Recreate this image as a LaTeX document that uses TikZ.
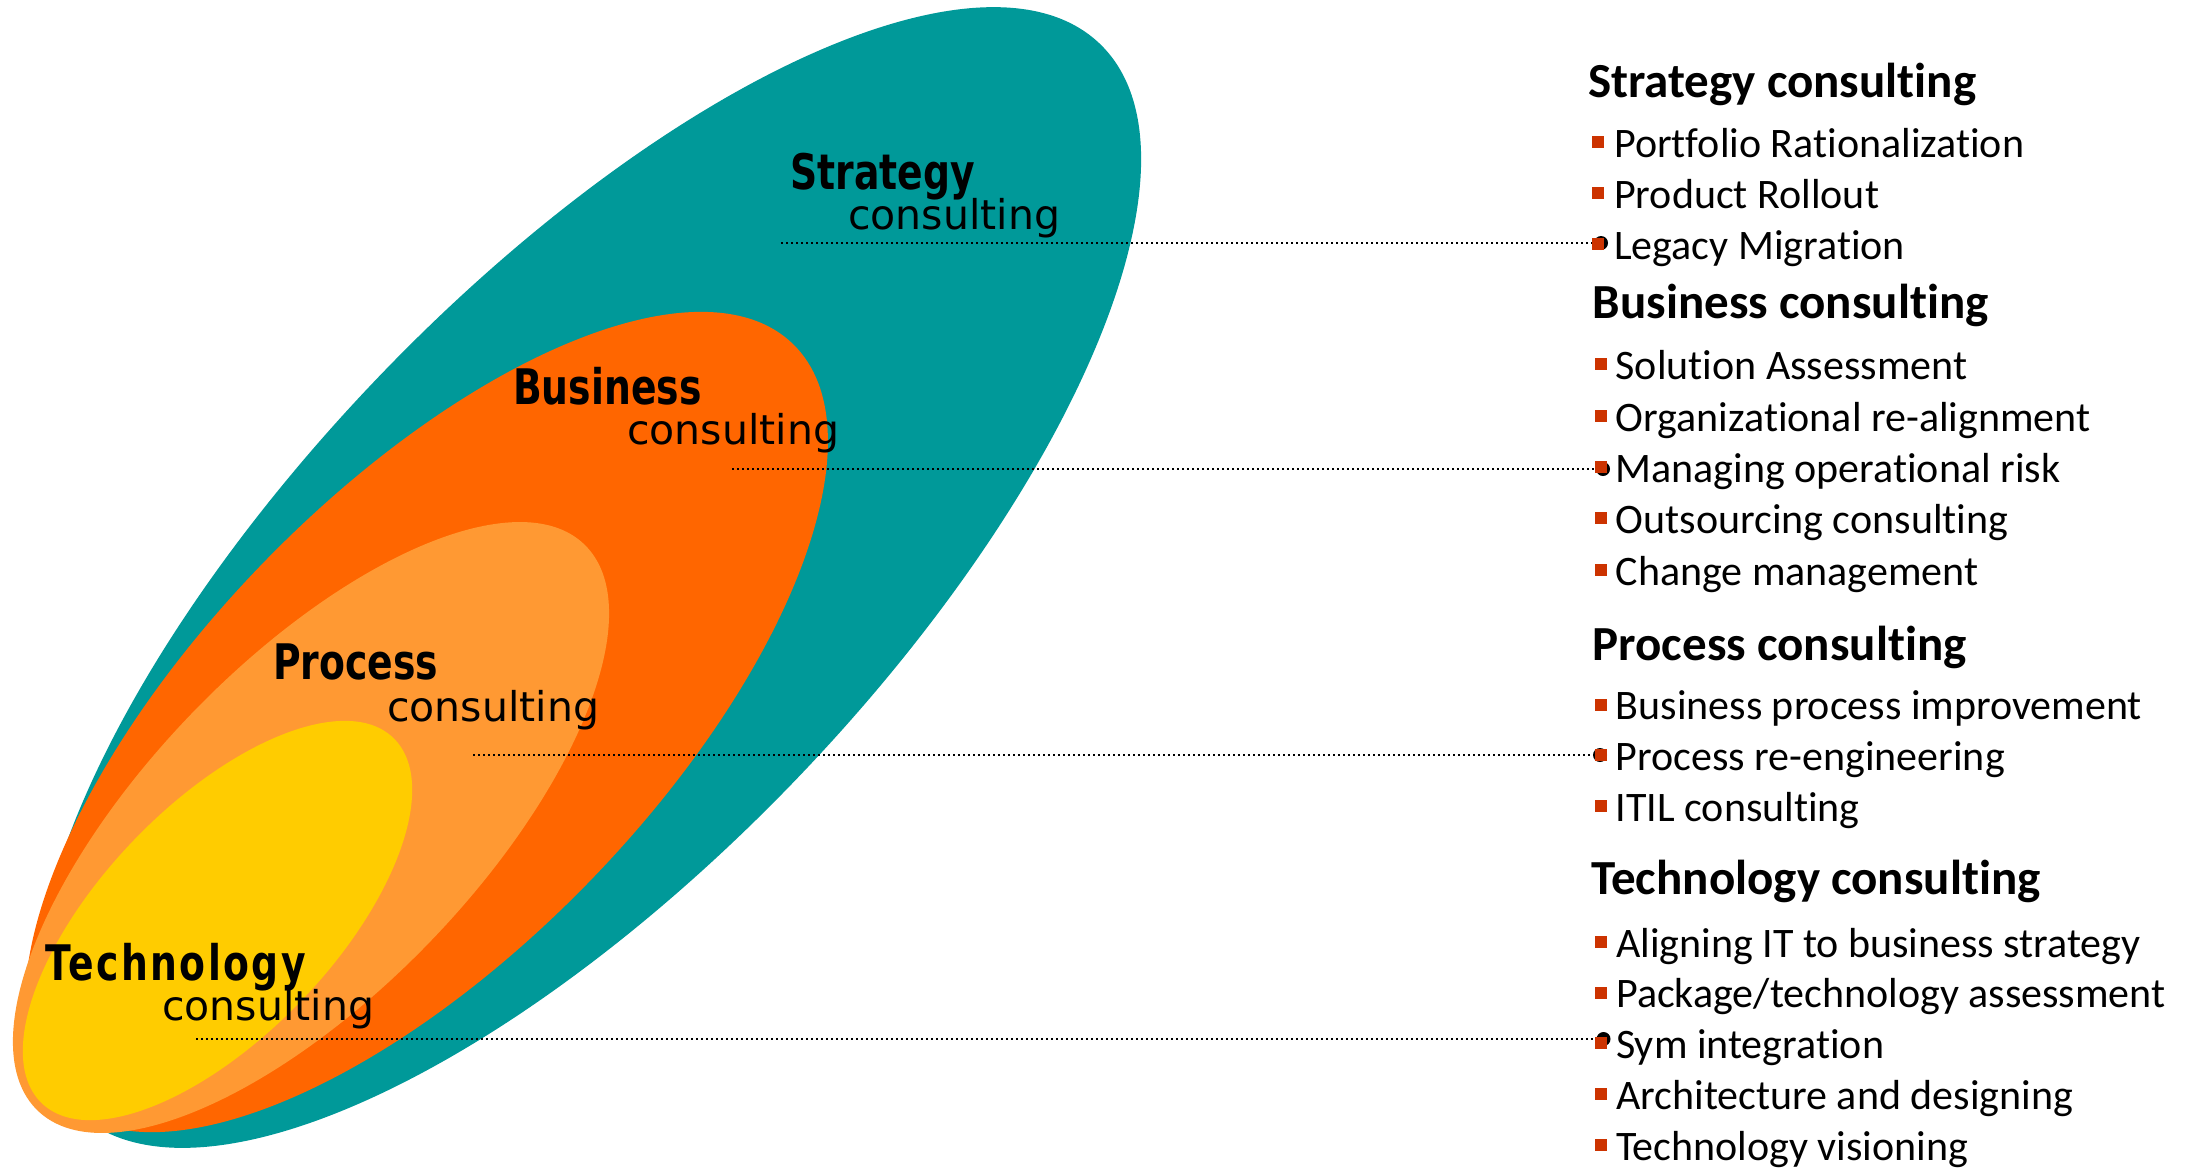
\documentclass[tikz,border=0pt]{standalone}
\usepackage{fontspec}
\usetikzlibrary{shapes.geometric}
\newfontfamily\rtfont{Carlito}[Ligatures=NoCommon]
\newfontfamily\lblfont{DejaVu Sans}
\newfontfamily\lblbold{DejaVu Sans}[FakeStretch=0.77]
\definecolor{cTeal}{HTML}{009999}
\definecolor{cDark}{HTML}{FF6600}
\definecolor{cLight}{HTML}{FF9933}
\definecolor{cYellow}{HTML}{FFCC00}
\definecolor{cBullet}{HTML}{CC3300}
\newcommand{\myitem}[5]{%
  \node[bul] (#1b) at (#2,#4-15) {};
  \node[itemT] (#1) at (#3,#4) {#5};}
\begin{document}
\begin{tikzpicture}[x=1pt,y=-1pt,
  layer/.style={ellipse, inner sep=0pt, outer sep=0pt, draw=none},
  lblB/.style={anchor=base west, inner sep=0pt, font=\lblbold\bfseries\fontsize{49}{49}\selectfont},
  lblR/.style={anchor=base west, inner sep=0pt, font=\lblfont\fontsize{41}{41}\selectfont},
  headT/.style={anchor=base west, inner sep=0pt, font=\rtfont\bfseries\fontsize{49}{49}\selectfont},
  itemT/.style={anchor=base west, inner sep=0pt, font=\rtfont\fontsize{42}{42}\selectfont},
  bul/.style={rectangle, fill=cBullet, minimum size=12pt, inner sep=0pt, outer sep=0pt},
  enddot/.style={circle, fill=black, minimum size=14pt, inner sep=0pt, outer sep=0pt},
  dotline/.style={line width=2.4pt, dash pattern=on 2.4pt off 2.6pt}
]
\useasboundingbox (0,0) rectangle (2198,1168);
\fill[white] (0,0) rectangle (2198,1168);

% nested layers
\node[layer, fill=cTeal, minimum width=1479pt, minimum height=580pt, rotate=46.2] (strat) at (588,577.5) {};
\node[layer, fill=cDark, minimum width=1053pt, minimum height=456pt, rotate=45.9] (busi) at (426.5,722) {};
\node[layer, fill=cLight, minimum width=787pt, minimum height=330pt, rotate=46] (proc) at (311,827.5) {};
\node[layer, fill=cYellow, minimum width=507pt, minimum height=232pt, rotate=46.1] (tech) at (217.5,920.5) {};

% labels in the layers
\node[lblB] (sB) at (790,189) {Strategy};
\node[lblR] (sC) at (848,229) {consulting};
\node[lblB] (bB) at (513,404) {Business};
\node[lblR] (bC) at (627,444) {consulting};
\node[lblB] (pB) at (273,679) {Process};
\node[lblR] (pC) at (387,721) {consulting};
\node[lblB] (tB) at (45,980) {\addfontfeature{LetterSpace=5}Technology};
\node[lblR] (tC) at (162,1020) {consulting};

% leader lines
\coordinate (sL) at (781,243);
\coordinate (bL) at (732,469);
\coordinate (pL) at (473,755);
\coordinate (tL) at (196,1039);
\node[enddot] (sD) at (1601,243) {};
\node[enddot] (bD) at (1603,469) {};
\node[enddot] (pD) at (1600,755) {};
\node[enddot] (tD) at (1603.5,1039) {};
\draw[dotline] (sL) -- (sD);
\draw[dotline] (bL) -- (bD);
\draw[dotline] (pL) -- (pD);
\draw[dotline] (tL) -- (tD);

% right-hand lists
\node[headT] (hS) at (1588,97) {Strategy consulting};
\myitem{s1}{1597.5}{1614}{157}{Portfolio Rationalization}
\myitem{s2}{1597.5}{1614}{208}{Product Rollout}
\myitem{s3}{1597.5}{1614}{259}{Legacy Migration}

\node[headT] (hB) at (1592.5,318.6) {Business consulting};
\myitem{b1}{1600.5}{1615.5}{379}{Solution Assessment}
\myitem{b2}{1600.5}{1615.5}{431}{Organizational re-alignment}
\myitem{b3}{1600.5}{1615.5}{482}{Managing operational risk}
\myitem{b4}{1600.5}{1615.5}{533}{Outsourcing consulting}
\myitem{b5}{1600.5}{1615.5}{585}{Change management}

\node[headT] (hP) at (1592.5,660) {Process consulting};
\myitem{p1}{1600.5}{1615.5}{719.6}{Business process improvement}
\myitem{p2}{1600.5}{1615.5}{770}{Process re-engineering}
\myitem{p3}{1600.5}{1615.5}{821}{ITIL consulting}

\node[headT] (hT) at (1591,894) {Technology consulting};
\myitem{t1}{1600.5}{1616}{957}{Aligning IT to business strategy}
\myitem{t2}{1600.5}{1616}{1007.6}{Package/technology assessment}
\myitem{t3}{1600.5}{1616}{1058}{Sym integration}
\myitem{t4}{1600.5}{1616}{1109}{Architecture and designing}
\myitem{t5}{1600.5}{1616}{1160}{Technology visioning}
\end{tikzpicture}
\end{document}
